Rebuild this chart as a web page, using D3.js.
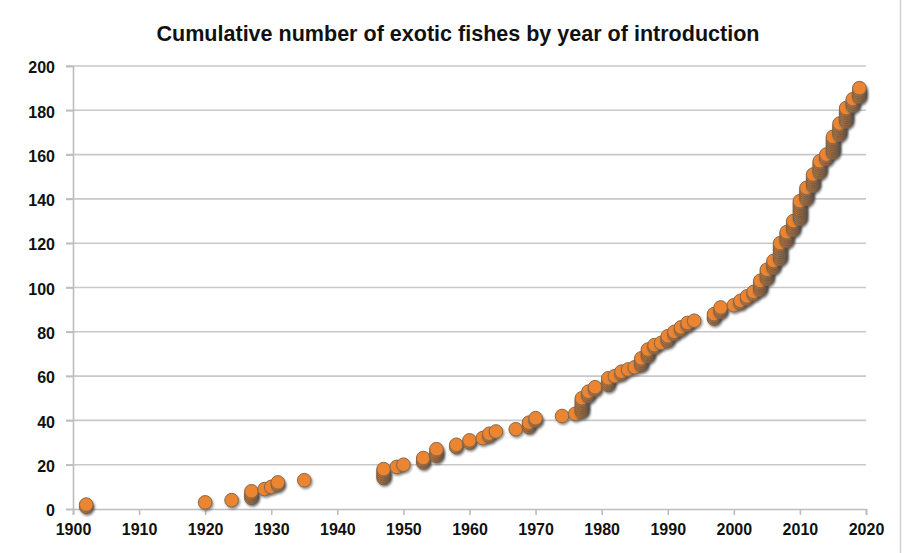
<!DOCTYPE html>
<html>
<head>
<meta charset="utf-8">
<script src="https://cdn.jsdelivr.net/npm/d3@7"></script>
<style>
  body { margin: 0; background: #fff; }
  svg { display: block; }
</style>
</head>
<body>
<svg id="chart" width="906" height="553"></svg>
<script>
const width = 906
const height = 553
const margin = { top: 66, right: 40, bottom: 44, left: 73 }

const title = 'Cumulative number of exotic fishes by year of introduction'

// year of introduction and how many species came in that year
const introYears = [1902, 1920, 1924, 1927, 1929, 1930, 1931, 1935, 1947, 1949,
  1950, 1953, 1955, 1958, 1960, 1962, 1963, 1964, 1967, 1969,
  1970, 1974, 1976, 1977, 1978, 1979, 1981, 1982, 1983, 1984,
  1985, 1986, 1987, 1988, 1989, 1990, 1991, 1992, 1993, 1994,
  1997, 1998, 2000, 2001, 2002, 2003, 2004, 2005, 2006, 2007,
  2008, 2009, 2010, 2011, 2012, 2013, 2014, 2015, 2016, 2017,
  2018, 2019]
const newSpecies = [2, 1, 1, 4, 1, 1, 2, 1, 5, 1,
  1, 3, 4, 2, 2, 1, 2, 1, 1, 3,
  2, 1, 1, 7, 3, 2, 4, 1, 2, 1,
  1, 4, 4, 2, 1, 3, 2, 2, 2, 1,
  3, 3, 1, 2, 2, 2, 5, 5, 4, 8,
  5, 5, 9, 6, 6, 6, 3, 8, 6, 7,
  4, 5]

const xTicks = [1900, 1910, 1920, 1930, 1940, 1950, 1960, 1970, 1980, 1990, 2000, 2010, 2020]
const yTicks = [0, 20, 40, 60, 80, 100, 120, 140, 160, 180, 200]

/* one marker per species, stacked at its running total */
const points = []
let total = 0
introYears.forEach((yr, i) => {
  for (let k = 0; k < newSpecies[i]; k++) {
    total += 1
    points.push({ year: yr, count: total })
  }
})

const svg = d3.select('#chart')

const xScale = d3.scaleLinear()
  .domain([1900, 2020])
  .range([margin.left, width - margin.right])

const yScale = d3.scaleLinear()
  .domain([0, 200])
  .range([height - margin.bottom, margin.top])

/* shadow under markers */
const defs = svg.append('defs')
defs.append('filter')
  .attr('id', 'shadow')
  .attr('x', '-50%').attr('y', '-50%')
  .attr('width', '200%').attr('height', '200%')
  .append('feDropShadow')
  .attr('dx', 1.2)
  .attr('dy', 1.8)
  .attr('stdDeviation', 1.2)
  .attr('flood-color', '#444')
  .attr('flood-opacity', 0.6)

/* right hand frame edge */
svg.append('line')
  .attr('x1', 900.5).attr('x2', 900.5)
  .attr('y1', 0).attr('y2', height)
  .attr('stroke', '#cfcfcf')
  .attr('stroke-width', 1.5)

/* title */
svg.append('text')
  .attr('x', 458)
  .attr('y', 41)
  .attr('text-anchor', 'middle')
  .attr('font-family', 'Liberation Sans, Arial, sans-serif')
  .attr('font-weight', 'bold')
  .attr('font-size', 22)
  .attr('textLength', 603)
  .attr('lengthAdjust', 'spacingAndGlyphs')
  .attr('fill', '#111')
  .text(title)

/* grid */
svg.append('g')
  .selectAll('line')
  .data(yTicks.filter((d) => d > 0))
  .join('line')
  .attr('x1', margin.left - 7)
  .attr('x2', width - margin.right)
  .attr('y1', (d) => yScale(d))
  .attr('y2', (d) => yScale(d))
  .attr('stroke', '#c8c8c8')
  .attr('stroke-width', 1.6)

/* axis */
const yAxis = svg.append('g')
  .attr('transform', `translate(${margin.left}, 0)`)
  .call(d3.axisLeft(yScale).tickValues(yTicks).tickSize(7).tickPadding(11))

const xAxis = svg.append('g')
  .attr('transform', `translate(0, ${yScale(0)})`)
  .call(d3.axisBottom(xScale).tickValues(xTicks).tickFormat(d3.format('d')).tickSize(6).tickPadding(9))

;[yAxis, xAxis].forEach((ax) => {
  ax.select('.domain').attr('stroke', '#bdbdbd').attr('stroke-width', 1.6)
  ax.selectAll('.tick line').attr('stroke', '#bdbdbd').attr('stroke-width', 1.6)
  ax.selectAll('.tick text')
    .attr('font-family', 'Liberation Sans, Arial, sans-serif')
    .attr('font-weight', 'bold')
    .attr('font-size', 16)
    .attr('fill', '#111')
})
yAxis.selectAll('.tick text').attr('dy', '0.42em')

/* markers */
svg.append('g')
  .selectAll('circle')
  .data(points)
  .join('circle')
  .attr('cx', (d) => xScale(d.year))
  .attr('cy', (d) => yScale(d.count))
  .attr('r', 6.8)
  .attr('fill', '#eb8530')
  .attr('stroke', '#85684c')
  .attr('stroke-width', 1)
  .attr('filter', 'url(#shadow)')
</script>
</body>
</html>
